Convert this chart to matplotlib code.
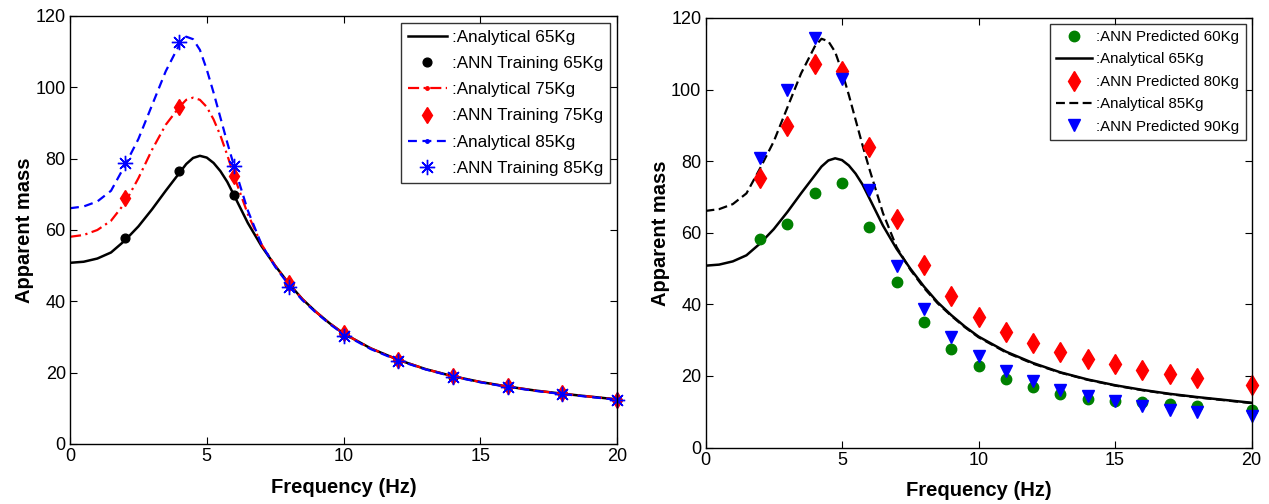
import matplotlib
matplotlib.use("Agg")
import matplotlib.pyplot as plt
from matplotlib.lines import Line2D

plt.rcParams['font.family'] = ['Liberation Sans', 'DejaVu Sans']

# ---------------- data: analytical curves ----------------
freq_curve = [0, 0.5, 1.0, 1.5, 2.0, 2.5, 3.0, 3.5, 4.0, 4.25, 4.5, 4.75, 5.0, 5.25, 5.5,
              5.75, 6.0, 6.5, 7.0, 7.5, 8.0, 8.5, 9.0, 9.5, 10, 11, 12, 13, 14, 15, 16,
              17, 18, 19, 20]
analytical_65 = [50.8, 51.1, 52.0, 53.7, 57.0, 61.0, 65.8, 71.0, 76.0, 78.5, 80.2, 80.8,
                 80.3, 78.8, 76.5, 73.5, 69.7, 62.0, 55.5, 50.0, 45.0, 40.6, 37.0, 33.8,
                 31.0, 26.8, 23.6, 21.0, 19.0, 17.4, 16.1, 15.0, 14.1, 13.3, 12.5]
analytical_75 = [58.1, 58.6, 60.0, 62.6, 67.5, 74.5, 82.5, 89.5, 94.5, 96.5, 97.1, 96.5,
                 94.5, 91.0, 86.5, 81.0, 75.1, 64.5, 56.0, 50.0, 45.0, 40.6, 37.0, 33.8,
                 31.0, 26.8, 23.6, 21.0, 19.0, 17.4, 16.1, 15.0, 14.1, 13.3, 12.5]
analytical_85 = [66.1, 66.6, 68.0, 71.0, 78.0, 85.5, 95.0, 104.5, 112.0, 114.2, 113.5,
                 110.5, 105.0, 98.5, 91.5, 84.5, 77.9, 65.5, 56.0, 49.7, 44.6, 40.3, 36.8,
                 33.6, 30.8, 26.6, 23.4, 20.9, 18.9, 17.3, 16.0, 14.9, 14.0, 13.2, 12.4]

# ANN training points (left chart)
freq_train = [2, 4, 6, 8, 10, 12, 14, 16, 18, 20]
train_65 = [57.7, 76.6, 69.7, 44.8, 30.9, 23.5, 18.9, 16.2, 14.2, 12.4]
train_75 = [68.9, 94.6, 75.1, 45.1, 31.0, 23.5, 19.0, 16.3, 14.2, 12.4]
train_85 = [78.9, 112.6, 77.9, 44.0, 30.3, 23.2, 18.8, 16.1, 14.0, 12.3]

# ANN predicted points (right chart)
freq_pred = [2, 3, 4, 5, 6, 7, 8, 9, 10, 11, 12, 13, 14, 15, 16, 17, 18, 20]
pred_60 = [58.2, 62.4, 71.1, 73.8, 61.5, 46.2, 35.0, 27.6, 22.7, 19.2, 16.8, 15.0, 13.5,
           13.1, 12.6, 12.1, 11.7, 10.6]
pred_80 = [75.3, 89.9, 107.2, 105.3, 83.9, 63.8, 50.9, 42.3, 36.6, 32.3, 29.3, 26.8, 24.6,
           23.2, 21.6, 20.5, 19.5, 17.5]
pred_90 = [80.9, 99.9, 114.4, 103.0, 72.0, 50.8, 38.7, 31.0, 25.6, 21.5, 18.7, 16.1, 14.3,
           12.9, 11.7, 10.6, 9.8, 8.7]

xticks = [0, 5, 10, 15, 20]
yticks = [0, 20, 40, 60, 80, 100, 120]

# ---------------- figure ----------------
W, H = 1269, 504
fig = plt.figure(figsize=(W / 100, H / 100), dpi=100)

def rect(l, r, t, b):
    return [l / W, 1 - b / H, (r - l) / W, (b - t) / H]

ax1 = fig.add_axes(rect(70, 617, 16, 444))
ax2 = fig.add_axes(rect(705.5, 1251.5, 18, 447.5))

def style(ax):
    ax.set_xlim(0, 20)
    ax.set_ylim(0, 120)
    ax.set_xticks(xticks)
    ax.set_yticks(yticks)
    ax.tick_params(direction='in', top=True, right=True, labelsize=13, length=5,
                   width=0.8, pad=3)
    for s in ax.spines.values():
        s.set_linewidth(1.0)
    ax.set_xlabel('Frequency (Hz)', fontsize=14.5, fontweight='bold', labelpad=9)
    ax.set_ylabel('Apparent mass', fontsize=14.5, fontweight='bold', labelpad=1)

STAR = (8, 2, 0)

# ---------- left chart ----------
ax1.plot(freq_curve, analytical_65, color='black', lw=1.8, ls='-')
ax1.plot(freq_curve, analytical_75, color='red', lw=1.6, ls=(0, (5, 2, 1, 2)))
ax1.plot(freq_curve, analytical_85, color='blue', lw=1.6, ls=(0, (4, 2.5)))
ax1.plot(freq_train, train_65, ls='none', marker='o', color='black', ms=6.3, clip_on=False)
ax1.plot(freq_train, train_75, ls='none', marker='d', color='red', ms=8, clip_on=False)
ax1.plot(freq_train, train_85, ls='none', marker=STAR, color='blue', ms=11, mew=1.0,
         clip_on=False)
style(ax1)

h1 = [
    Line2D([], [], color='black', lw=1.8),
    Line2D([], [], ls='none', marker='o', color='black', ms=6.3),
    Line2D([], [], color='red', lw=1.6, ls=(0, (5, 2, 1, 2)), marker='.', ms=5),
    Line2D([], [], ls='none', marker='d', color='red', ms=8),
    Line2D([], [], color='blue', lw=1.6, ls=(0, (4, 2.5)), marker='.', ms=5),
    Line2D([], [], ls='none', marker=STAR, color='blue', ms=11, mew=1.0),
]
l1 = [':Analytical 65Kg', ':ANN Training 65Kg', ':Analytical 75Kg',
      ':ANN Training 75Kg', ':Analytical 85Kg', ':ANN Training 85Kg']
leg1 = ax1.legend(h1, l1, loc='upper right', fontsize=12.3, frameon=True, fancybox=False,
                  edgecolor='black', handlelength=2.3, handletextpad=0.3,
                  labelspacing=0.66, borderpad=0.4, borderaxespad=0.4)
leg1.get_frame().set_linewidth(1.0)

# ---------- right chart ----------
ax2.plot(freq_curve, analytical_65, color='black', lw=1.8, ls='-')
ax2.plot(freq_curve, analytical_85, color='black', lw=1.6, ls=(0, (4, 2)))
ax2.plot(freq_pred, pred_60, ls='none', marker='o', color='#008000', ms=7.5, clip_on=False)
ax2.plot(freq_pred, pred_80, ls='none', marker='d', color='red', ms=10, clip_on=False)
ax2.plot(freq_pred, pred_90, ls='none', marker='v', color='blue', ms=8.5, clip_on=False)
style(ax2)

h2 = [
    Line2D([], [], ls='none', marker='o', color='#008000', ms=7.5),
    Line2D([], [], color='black', lw=1.8),
    Line2D([], [], ls='none', marker='d', color='red', ms=10),
    Line2D([], [], color='black', lw=1.6, ls=(0, (4, 2))),
    Line2D([], [], ls='none', marker='v', color='blue', ms=8.5),
]
l2 = [':ANN Predicted 60Kg', ':Analytical 65Kg', ':ANN Predicted 80Kg',
      ':Analytical 85Kg', ':ANN Predicted 90Kg']
leg2 = ax2.legend(h2, l2, loc='upper right', fontsize=10.8, frameon=True, fancybox=False,
                  edgecolor='black', handlelength=2.4, handletextpad=0.3,
                  labelspacing=0.56, borderpad=0.4, borderaxespad=0.4)
leg2.get_frame().set_linewidth(1.0)

fig.savefig('out.png', dpi=100)
